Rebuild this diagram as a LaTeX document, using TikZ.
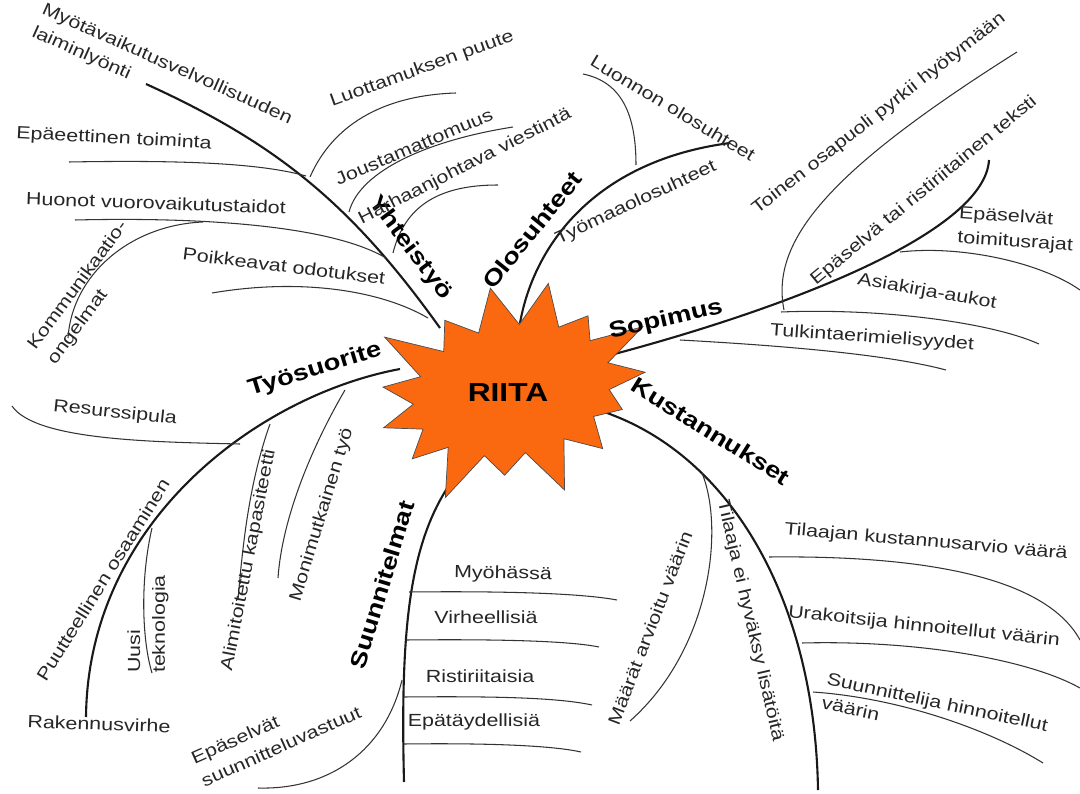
\documentclass[tikz,border=0pt]{standalone}
\usepackage{fontspec}
\setmainfont{Liberation Sans}[FakeStretch=1.22]
\usetikzlibrary{shapes.symbols}
\definecolor{burst}{RGB}{250,105,15}

\begin{document}
\begin{tikzpicture}[x=0.025cm, y=-0.025cm,
    branch/.style={line width=1.5pt, draw=black!90},
    twig/.style={line width=0.75pt, draw=black!80},
    lbl/.style={inner sep=0pt, text=black!85, align=left, font=\fontsize{12.5}{17.5}\selectfont},
    head/.style={inner sep=0pt, text=black, font=\fontsize{16}{18}\selectfont\bfseries}]
  \useasboundingbox (0,0) rectangle (1080,794);

  \coordinate (yh-a) at (440,328);
  \coordinate (yh-b) at (146,84);
  \coordinate (ol-a) at (520,323);
  \coordinate (ol-b) at (730,143);
  \coordinate (so-a) at (607,356);
  \coordinate (so-b) at (989,160);
  \coordinate (ku-a) at (595,409);
  \coordinate (ku-b) at (818,790);
  \coordinate (su-a) at (462,468);
  \coordinate (su-b) at (404,782);
  \coordinate (ty-a) at (400,369);
  \coordinate (ty-b) at (86,717);

  \draw[branch] (yh-a) .. controls (352,205) and (278,144) .. (yh-b);
  \draw[branch] (ol-a) .. controls (535,240) and (600,160) .. (ol-b);
  \draw[branch] (so-a) .. controls (800,305) and (985,230) .. (so-b);
  \draw[branch] (ku-a) .. controls (730,450) and (815,600) .. (ku-b);
  \draw[branch] (su-a) .. controls (410,530) and (400,620) .. (su-b);
  \draw[branch] (ty-a) .. controls (260,395) and (88,520) .. (ty-b);

  \coordinate (lp-a) at (310,177);   \coordinate (lp-b) at (456,93);
  \coordinate (jo-a) at (349,212);   \coordinate (jo-b) at (513,127);
  \coordinate (ha-a) at (393,253);   \coordinate (ha-b) at (498,185);
  \coordinate (ep-a) at (69,162);    \coordinate (ep-b) at (306,176);
  \coordinate (hu-a) at (75,220);    \coordinate (hu-b) at (386,258);
  \coordinate (ko-a) at (203,222);   \coordinate (ko-b) at (68,338);
  \coordinate (po-a) at (212,293);   \coordinate (po-b) at (428,318);
  \draw[twig] (lp-a) .. controls (335,120) and (390,95) .. (lp-b);
  \draw[twig] (jo-a) .. controls (360,170) and (430,140) .. (jo-b);
  \draw[twig] (ha-a) .. controls (405,205) and (440,185) .. (ha-b);
  \draw[twig] (ep-a) .. controls (180,160) and (260,163) .. (ep-b);
  \draw[twig] (hu-a) .. controls (200,217) and (330,225) .. (hu-b);
  \draw[twig] (ko-a) .. controls (130,225) and (72,275) .. (ko-b);
  \draw[twig] (po-a) .. controls (300,278) and (380,290) .. (po-b);

  \coordinate (lu-a) at (636,165);   \coordinate (lu-b) at (583,74);
  \draw[twig] (lu-a) .. controls (636,115) and (622,82) .. (lu-b);

  \coordinate (to-a) at (784,310);   \coordinate (to-b) at (1017,52);
  \coordinate (tr-a) at (900,252);   \coordinate (tr-b) at (1080,290);
  \coordinate (as-a) at (781,312);   \coordinate (as-b) at (1039,344);
  \coordinate (tu-a) at (680,340);   \coordinate (tu-b) at (946,370);
  \draw[twig] (to-a) .. controls (770,240) and (830,170) .. (to-b);
  \draw[twig] (tr-a) .. controls (960,245) and (1040,262) .. (tr-b);
  \draw[twig] (as-a) .. controls (880,308) and (990,322) .. (as-b);
  \draw[twig] (tu-a) .. controls (790,346) and (890,355) .. (tu-b);

  \coordinate (ma-a) at (702,473);   \coordinate (ma-b) at (630,721);
  \coordinate (tk-a) at (769,557);   \coordinate (tk-b) at (1080,640);
  \coordinate (ur-a) at (802,643);   \coordinate (ur-b) at (1080,688);
  \coordinate (sh-a) at (813,692);   \coordinate (sh-b) at (1043,763);
  \draw[twig] (ma-a) .. controls (725,530) and (710,650) .. (ma-b);
  \draw[twig] (tk-a) .. controls (950,555) and (1050,585) .. (tk-b);
  \draw[twig] (ur-a) .. controls (920,640) and (1030,660) .. (ur-b);
  \draw[twig] (sh-a) .. controls (900,698) and (990,730) .. (sh-b);

  \coordinate (my-a) at (409,592);   \coordinate (my-b) at (617,600);
  \coordinate (vi-a) at (406,640);   \coordinate (vi-b) at (599,647);
  \coordinate (ri-a) at (404,697);   \coordinate (ri-b) at (592,705);
  \coordinate (et-a) at (404,744);   \coordinate (et-b) at (581,752);
  \coordinate (sv-a) at (402,680);   \coordinate (sv-b) at (258,788);
  \draw[twig] (my-a) .. controls (500,591) and (580,593) .. (my-b);
  \draw[twig] (vi-a) .. controls (500,639) and (570,641) .. (vi-b);
  \draw[twig] (ri-a) .. controls (500,696) and (560,698) .. (ri-b);
  \draw[twig] (et-a) .. controls (480,743) and (550,745) .. (et-b);
  \draw[twig] (sv-a) .. controls (385,750) and (330,790) .. (sv-b);

  \coordinate (re-a) at (12,406);    \coordinate (re-b) at (240,444);
  \coordinate (uu-a) at (152,528);   \coordinate (uu-b) at (152,673);
  \coordinate (al-a) at (270,424);   \coordinate (al-b) at (238,600);
  \coordinate (mo-a) at (345,390);   \coordinate (mo-b) at (278,578);
  \draw[twig] (re-a) .. controls (35,440) and (150,442) .. (re-b);
  \draw[twig] (uu-a) .. controls (140,580) and (142,640) .. (uu-b);
  \draw[twig] (al-a) .. controls (250,480) and (243,540) .. (al-b);
  \draw[twig] (mo-a) .. controls (310,450) and (282,520) .. (mo-b);

  \node[starburst, fill=burst, draw=black!70, line width=0.5pt,
        starburst points=15, starburst point height=1.4cm,
        minimum width=7.8cm, minimum height=6cm, rotate=12] (riita) at (512,390) {};
  \node[font=\fontsize{18.5}{22}\selectfont\bfseries, inner sep=0pt] (riita-lbl) at (508,393) {RIITA};

  \node[head, rotate=-53] (yhteistyo) at (410,248) {Yhteistyö};
  \node[head, rotate=51] (olosuhteet) at (532,230) {Olosuhteet};
  \node[head, rotate=13] (sopimus) at (666,320) {Sopimus};
  \node[head, rotate=-32] (kustannukset) at (711,431) {Kustannukset};
  \node[head, rotate=73] (suunnitelmat) at (382,585) {Suunnitelmat};
  \node[head, rotate=17] (tyosuorite) at (315,370) {Työsuorite};

  \node[lbl, rotate=-24] (myotav) at (162,76) {Myötävaikutusvelvollisuuden\\laiminlyönti};
  \node[lbl, rotate=20] (luottamus) at (422,69) {Luottamuksen puute};
  \node[lbl, rotate=23] (joustam) at (414,147) {Joustamattomuus};
  \node[lbl, rotate=27] (harhaan) at (465,167) {Harhaanjohtava viestintä};
  \node[lbl, rotate=-3] (epaeett) at (114,139) {Epäeettinen toiminta};
  \node[lbl, rotate=-2] (huonot) at (156,203) {Huonot vuorovaikutustaidot};
  \node[lbl, rotate=53.5] (kommun) at (88,293) {Kommunikaatio-\\ongelmat};
  \node[lbl, rotate=-7] (poikkeavat) at (284,266) {Poikkeavat odotukset};

  \node[lbl, rotate=-31] (luonnon) at (673,108) {Luonnon olosuhteet};
  \node[lbl, rotate=25] (tyomaa) at (636,203) {Työmaaolosuhteet};

  \node[lbl, rotate=38] (toinen) at (879,114) {Toinen osapuoli pyrkii hyötymään};
  \node[lbl, rotate=39.5] (epaselva) at (924,191) {Epäselvä tai ristiriitainen teksti};
  \node[lbl, rotate=-4] (toimitus) at (1016,230) {Epäselvät\\toimitusrajat};
  \node[lbl, rotate=-10] (asiakirja) at (927,292) {Asiakirja-aukot};
  \node[lbl, rotate=-4] (tulkinta) at (872,338) {Tulkintaerimielisyydet};

  \node[lbl, rotate=-5] (tilaajan) at (926,542) {Tilaajan kustannusarvio väärä};
  \node[lbl, rotate=-6] (urakoitsija) at (924,627) {Urakoitsija hinnoitellut väärin};
  \node[lbl, rotate=-12] (suunnittelija) at (935,714) {Suunnittelija hinnoitellut\\väärin};
  \node[lbl, rotate=69] (maarat) at (650,628) {Määrät arvioitu väärin};
  \node[lbl, rotate=-77] (tilaaja) at (750,621) {Tilaaja ei hyväksy lisätöitä};

  \node[lbl, rotate=-1] (myohassa) at (503,574) {Myöhässä};
  \node[lbl] (virheellisia) at (486,617) {Virheellisiä};
  \node[lbl] (ristiriitaisia) at (480,676) {Ristiriitaisia};
  \node[lbl] (epataydellisia) at (474,722) {Epätäydellisiä};
  \node[lbl, rotate=24] (suunvastuut) at (276,735) {Epäselvät\\suunnitteluvastuut};

  \node[lbl, rotate=-6] (resurssi) at (115,413) {Resurssipula};
  \node[lbl, rotate=58] (puutteellinen) at (103,580) {Puutteellinen osaaminen};
  \node[lbl, rotate=90] (uusi) at (148,624) {Uusi\\teknologia};
  \node[lbl, rotate=79] (alimitoitettu) at (249,560) {Alimitoitettu kapasiteetti};
  \node[lbl, rotate=73] (monimutkainen) at (322,515) {Monimutkainen työ};
  \node[lbl, rotate=-2] (rakennus) at (99,724) {Rakennusvirhe};
\end{tikzpicture}
\end{document}
